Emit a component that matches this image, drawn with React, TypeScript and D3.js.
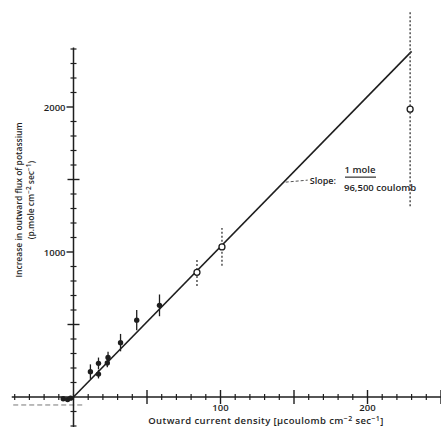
import React from "react";
import * as d3 from "d3";

// Measured flux increases (filled = direct, open = tracer estimates)
const filledCurrent = [-7, -4, -2, 11.5, 17, 17, 23.5, 23, 32, 43, 58.5];
const filledFlux = [-12, -18, -8, 175, 232, 158, 272, 235, 375, 530, 632];
const filledErr = [0, 0, 0, 50, 40, 30, 40, 30, 60, 70, 75];

const openCurrent = [84, 101, 229];
const openFlux = [860, 1035, 1985];
const openErr = [95, 130, 670];

// Faraday line: 1 mole per 96,500 coulomb -> pmole per µcoulomb
const faradaySlope = 1e6 / 96500;
const lineRange = [0, 230];

const xTickLabels = [100, 200];
const yTickLabels = [1000, 2000];

const W = 441;
const H = 427;
const INK = "#1e1e1e";
const FONT = "'Open Sans', 'DejaVu Sans', sans-serif";

export default function App() {
  const x = d3.scaleLinear().domain([0, 200]).range([73.5, 367.5]);
  const y = d3.scaleLinear().domain([0, 2000]).range([397, 107]);

  const x0 = x(0);
  const y0 = y(0);

  const xMinor = d3.range(-40, 251, 10);
  const yMinor = d3.range(-200, 2401, 100);

  const line = d3
    .line<number>()
    .x((d) => x(d))
    .y((d) => y(d * faradaySlope));

  // leader for the slope note
  const leadX = 143;
  const leadPx = x(leadX);
  const leadPy = y(leadX * faradaySlope);

  return (
    <svg
      width={W}
      height={H}
      style={{ position: "absolute", left: 0, top: 0, background: "#fff" }}
      fontFamily={FONT}
    >
      <rect width={W} height={H} fill="#fff" />

      {/* x axis */}
      <line x1={x(-42)} x2={W} y1={y0} y2={y0} stroke={INK} strokeWidth={1.5} />
      {xMinor.map((v) => {
        const major = v % 50 === 0 && v !== 0;
        const len = major ? 7 : 3;
        return (
          <line
            key={"xt" + v}
            x1={x(v)}
            x2={x(v)}
            y1={y0 - len}
            y2={y0 + len}
            stroke={INK}
            strokeWidth={major ? 1.4 : 1.2}
          />
        );
      })}
      {xTickLabels.map((v) => (
        <text
          key={"xl" + v}
          x={x(v)}
          y={y0 + 14}
          textAnchor="middle"
          fontSize={9.5}
          fontWeight={600}
          fill={INK}
        >
          {v}
        </text>
      ))}

      {/* dashed baseline below the axis */}
      <line
        x1={x(-41)}
        x2={x(8)}
        y1={y(-55)}
        y2={y(-55)}
        stroke="#777"
        strokeWidth={1}
        strokeDasharray="5,3"
      />

      {/* y axis */}
      <line x1={x0} x2={x0} y1={y(2410)} y2={H} stroke={INK} strokeWidth={1.5} />
      {yMinor.map((v) => {
        if (v === 0) return null;
        const labelled = yTickLabels.includes(v);
        const major = v % 500 === 0;
        const left = labelled ? 7 : major ? 6 : 3;
        const right = labelled ? 0 : major ? 6 : 3;
        return (
          <line
            key={"yt" + v}
            x1={x0 - left}
            x2={x0 + right}
            y1={y(v)}
            y2={y(v)}
            stroke={INK}
            strokeWidth={major ? 1.4 : 1.2}
          />
        );
      })}
      {yTickLabels.map((v) => (
        <text
          key={"yl" + v}
          x={x0 - 8}
          y={y(v) + 3.5}
          textAnchor="end"
          fontSize={9.5}
          fontWeight={600}
          fill={INK}
        >
          {v}
        </text>
      ))}

      {/* Faraday line */}
      <path d={line(lineRange) ?? ""} fill="none" stroke={INK} strokeWidth={1.6} />

      {/* error bars: solid for filled, dotted for open */}
      {filledCurrent.map((c, i) =>
        filledErr[i] > 0 ? (
          <line
            key={"fe" + i}
            x1={x(c)}
            x2={x(c)}
            y1={y(filledFlux[i] - filledErr[i])}
            y2={y(filledFlux[i] + filledErr[i])}
            stroke={INK}
            strokeWidth={1.3}
          />
        ) : null
      )}
      {openCurrent.map((c, i) => (
        <line
          key={"oe" + i}
          x1={x(c)}
          x2={x(c)}
          y1={y(openFlux[i] - openErr[i])}
          y2={y(openFlux[i] + openErr[i])}
          stroke="#444"
          strokeWidth={1.4}
          strokeDasharray="2,2"
        />
      ))}

      {/* points */}
      {filledCurrent.map((c, i) => (
        <circle key={"fp" + i} cx={x(c)} cy={y(filledFlux[i])} r={2.7} fill={INK} />
      ))}
      {openCurrent.map((c, i) => (
        <circle
          key={"op" + i}
          cx={x(c)}
          cy={y(openFlux[i])}
          r={3}
          fill="#fff"
          stroke={INK}
          strokeWidth={1.3}
        />
      ))}

      {/* slope note */}
      <line
        x1={leadPx + 2}
        y1={leadPy}
        x2={leadPx + 24}
        y2={leadPy - 2}
        stroke="#555"
        strokeWidth={1}
        strokeDasharray="3,2"
      />
      <text x={leadPx + 26} y={leadPy + 1.5} fontSize={9} fontWeight={600} fill={INK}>
        Slope:
      </text>
      <text x={360} y={leadPy - 9} textAnchor="middle" fontSize={9.5} fontWeight={600} fill={INK}>
        1 mole
      </text>
      <line x1={345} x2={376} y1={leadPy - 5} y2={leadPy - 5} stroke={INK} strokeWidth={1.1} />
      <text x={344} y={leadPy + 8.5} fontSize={9.5} fontWeight={600} fill={INK}>
        96,500 coulomb
      </text>

      {/* axis titles */}
      <text
        x={266}
        y={H - 3}
        textAnchor="middle"
        fontSize={9.5}
        fontWeight={600}
        letterSpacing={0.4}
        fill={INK}
      >
        Outward current density{"  "}[µcoulomb cm
        <tspan fontSize={7} dy={-3.5}>−2</tspan>
        <tspan dy={3.5}> sec</tspan>
        <tspan fontSize={7} dy={-3.5}>−1</tspan>
        <tspan dy={3.5}>]</tspan>
      </text>
      <g transform="translate(22,200) rotate(-90)">
        <text x={0} y={0} textAnchor="middle" fontSize={8.5} fontWeight={600} fill={INK}>
          Increase in outward flux of potassium
        </text>
        <text x={0} y={12} textAnchor="middle" fontSize={8.5} fontWeight={600} fill={INK}>
          (p.mole cm
          <tspan fontSize={6.5} dy={-3}>−2</tspan>
          <tspan dy={3}> sec</tspan>
          <tspan fontSize={6.5} dy={-3}>−1</tspan>
          <tspan dy={3}>)</tspan>
        </text>
      </g>
    </svg>
  );
}
